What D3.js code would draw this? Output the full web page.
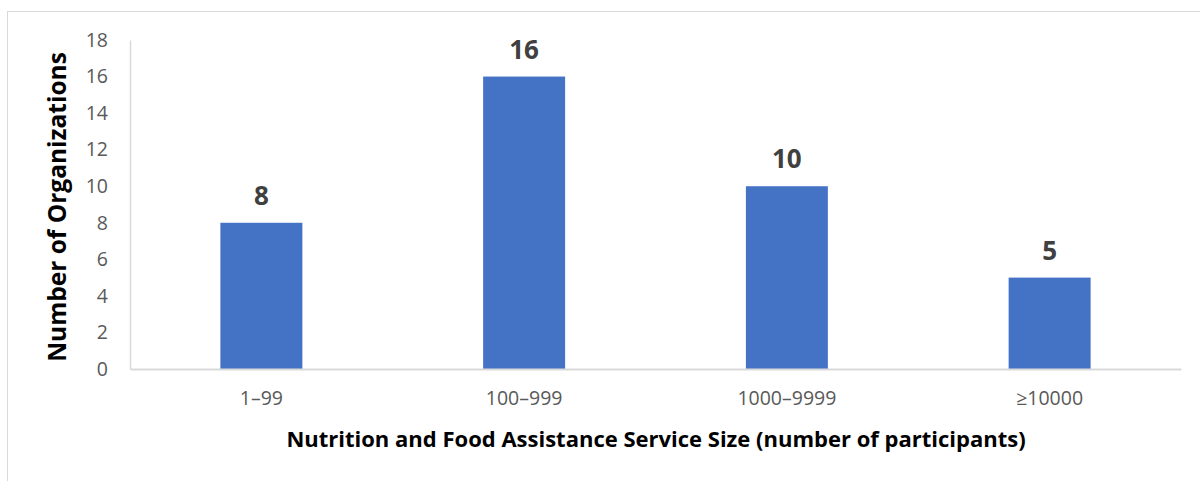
<!DOCTYPE html>
<html>
<head>
<meta charset="utf-8">
<script src="https://cdn.jsdelivr.net/npm/d3@7"></script>
<style>
  html, body { margin: 0; padding: 0; background: #fff; }
  svg { display: block; }
</style>
</head>
<body>
<div id="chart"></div>
<script>
// Organizations by nutrition and food assistance service size
const categories = ["1–99", "100–999", "1000–9999", "≥10000"];
const counts = [8, 16, 10, 5];
const yTicks = [0, 2, 4, 6, 8, 10, 12, 14, 16, 18];
const xTitle = "Nutrition and Food Assistance Service Size (number of participants)";
const yTitle = "Number of Organizations";

const W = 1200, H = 481;
const font = "'Open Sans', 'Liberation Sans', sans-serif";
const plot = { left: 130, right: 1181, top: 40, bottom: 369 };

const svg = d3.select("#chart").append("svg")
  .attr("width", W).attr("height", H);

// outer frame
svg.append("rect")
  .attr("x", 7.5).attr("y", 11.5)
  .attr("width", W).attr("height", H)
  .attr("fill", "none").attr("stroke", "#d9d9d9").attr("stroke-width", 1);

const x = d3.scaleBand().domain(categories)
  .range([plot.left, plot.right]).paddingInner(0).paddingOuter(0);
const y = d3.scaleLinear().domain([0, 18]).range([plot.bottom, plot.top]);

const barW = x.bandwidth() * 0.312;

// y axis: labels only plus a light vertical line
const yAxis = svg.append("g")
  .attr("transform", `translate(${plot.left},0)`)
  .call(d3.axisLeft(y).tickValues(yTicks).tickSize(0).tickPadding(22));
yAxis.select(".domain").attr("stroke", "#d9d9d9").attr("stroke-width", 1.5);
yAxis.selectAll("text")
  .attr("fill", "#595959").style("font-family", font).style("font-size", "19.5px");

// bars
svg.append("g").selectAll("rect")
  .data(counts)
  .join("rect")
  .attr("x", (d, i) => x(categories[i]) + x.bandwidth() / 2 - barW / 2)
  .attr("y", d => y(d))
  .attr("width", barW)
  .attr("height", d => y(0) - y(d))
  .attr("fill", "#4472c4");

// value labels
svg.append("g").selectAll("text")
  .data(counts)
  .join("text")
  .attr("x", (d, i) => x(categories[i]) + x.bandwidth() / 2)
  .attr("y", d => y(d) - 18)
  .attr("text-anchor", "middle")
  .attr("fill", "#404040")
  .style("font-family", font).style("font-size", "26px").style("font-weight", "bold")
  .text(d => d);

// x axis
const xAxis = svg.append("g")
  .attr("transform", `translate(0,${plot.bottom})`)
  .call(d3.axisBottom(x).tickSize(0).tickPadding(22));
xAxis.select(".domain").attr("stroke", "#d9d9d9").attr("stroke-width", 2);
xAxis.selectAll("text")
  .attr("fill", "#595959").style("font-family", font).style("font-size", "19.5px");

// axis titles
svg.append("text")
  .attr("x", 656).attr("y", 447)
  .attr("text-anchor", "middle")
  .attr("fill", "#000")
  .style("font-family", font).style("font-size", "22px").style("font-weight", "bold")
  .text(xTitle);

svg.append("text")
  .attr("transform", `translate(66,207) rotate(-90)`)
  .attr("text-anchor", "middle")
  .attr("fill", "#000")
  .style("font-family", font).style("font-size", "24.5px").style("font-weight", "bold")
  .text(yTitle);
</script>
</body>
</html>
